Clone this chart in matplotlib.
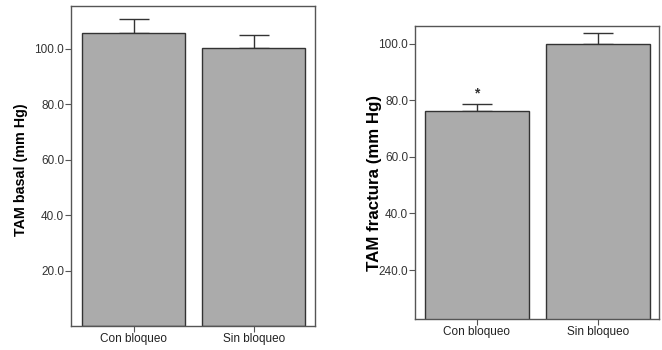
import numpy as np
import matplotlib
matplotlib.use('Agg')
import matplotlib.pyplot as plt

plt.rcParams['font.family'] = ['Liberation Sans', 'DejaVu Sans']

groups = ["Con bloqueo", "Sin bloqueo"]

basal_mean = [105.6, 100.5]
basal_err = [5.1, 4.5]
basal_ticks = [20, 40, 60, 80, 100]
basal_ticklabels = ["20.0", "40.0", "60.0", "80.0", "100.0"]

fract_mean = [76.1, 99.8]
fract_err = [2.6, 3.8]
fract_ticks = [20, 40, 60, 80, 100]
fract_ticklabels = ["240.0", "40.0", "60.0", "80.0", "100.0"]

bar_color = "#ababab"
edge = "#333333"
frame = "#555555"

fig = plt.figure(figsize=(6.62, 3.5), dpi=100)
W, H = 662, 350
ax1 = fig.add_axes([71 / W, 1 - 326 / H, 244 / W, 320 / H])
ax2 = fig.add_axes([415 / W, 1 - 319.3 / H, 243.7 / W, 293.3 / H])


def draw(ax, means, errs, ticks, ticklabels, ylim, xlim, ylabel, lsize, lx, ly):
    x = np.arange(len(groups))
    ax.bar(x, means, width=0.86, color=bar_color, edgecolor=edge, linewidth=1.0, zorder=2)
    ax.errorbar(x, means, yerr=[[0, 0], errs], fmt='none', ecolor=edge,
                elinewidth=1.0, capsize=10.8, capthick=1.0, zorder=1)
    ax.set_xlim(*xlim)
    ax.set_ylim(*ylim)
    ax.set_xticks(x)
    ax.set_xticklabels(groups, fontsize=8.5, color="#222222")
    ax.set_yticks(ticks)
    ax.set_yticklabels(ticklabels, fontsize=8.5, color="#333333")
    ax.tick_params(axis='both', length=4, width=0.8, color=frame, pad=1)
    ax.set_ylabel(ylabel, fontsize=lsize, fontweight='bold')
    ax.yaxis.set_label_coords(lx, ly)
    for s in ax.spines.values():
        s.set_color(frame)
        s.set_linewidth(1.0)


draw(ax1, basal_mean, basal_err, basal_ticks, basal_ticklabels,
     (0, 115.5), (-0.52, 1.51), "TAM basal (mm Hg)", 10.3, -43 / 244, 0.49)
draw(ax2, fract_mean, fract_err, fract_ticks, fract_ticklabels,
     (2.6, 106.2), (-0.51, 1.504), "TAM fractura (mm Hg)", 12.2, -33.3 / 243.7, 0.465)

ax2.text(0, fract_mean[0] + fract_err[0] + 3.5, "*", ha='center', va='center',
         fontsize=10, fontweight='bold', color="#333333")

fig.savefig("out.png", dpi=100)
